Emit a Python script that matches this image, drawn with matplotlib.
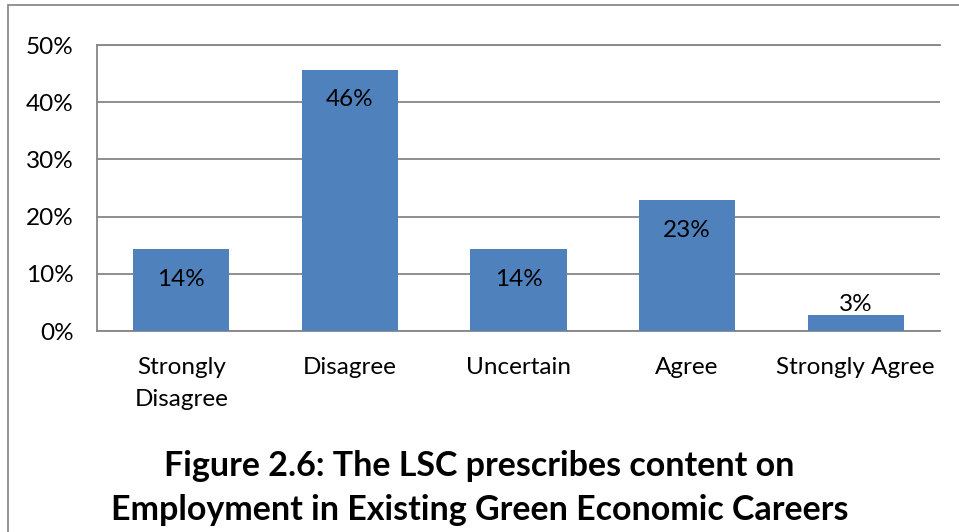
import matplotlib
matplotlib.use("Agg")
import matplotlib.pyplot as plt
from matplotlib.patches import Rectangle

categories = ["Strongly\nDisagree", "Disagree", "Uncertain", "Agree", "Strongly Agree"]
values = [14.29, 45.71, 14.29, 22.86, 2.86]
labels = ["14%", "46%", "14%", "23%", "3%"]
yticks = [0, 10, 20, 30, 40, 50]
title = "Figure 2.6: The LSC prescribes content on\nEmployment in Existing Green Economic Careers"

plt.rcParams['font.family'] = ['Lato', 'DejaVu Sans']

W, H = 959, 532
fig = plt.figure(figsize=(W / 100, H / 100), dpi=100)
ax = fig.add_axes([97 / W, 1 - 331 / H, (940 - 97) / W, (331 - 45) / H])

grid_col = '#868686'
bar_col = '#4F81BD'

x = range(len(categories))
ax.bar(x, values, width=0.57, color=bar_col, zorder=3)
ax.set_xlim(-0.5, len(categories) - 0.5)
ax.set_ylim(0, 50)
ax.set_yticks(yticks)
ax.set_yticklabels([f"{t}%" for t in yticks])
ax.set_xticks(list(x))
ax.set_xticklabels(categories, linespacing=1.62)
ax.tick_params(axis='y', length=0, pad=17, labelsize=17.5)
ax.tick_params(axis='x', length=0, pad=19, labelsize=17.5)
ax.yaxis.grid(True, color=grid_col, linewidth=1.3, zorder=0)

for side in ['top', 'right']:
    ax.spines[side].set_visible(False)
for side in ['left', 'bottom']:
    ax.spines[side].set_color(grid_col)
    ax.spines[side].set_linewidth(1.3)
ax.axhline(50, color=grid_col, linewidth=1.3, zorder=0, clip_on=False)

for i, (v, lab) in enumerate(zip(values, labels)):
    if v < 5:
        ax.annotate(lab, (i, v), xytext=(0, 7), textcoords='offset points',
                    ha='center', va='center', fontsize=17.5)
    else:
        ax.annotate(lab, (i, v), xytext=(0, -21.5), textcoords='offset points',
                    ha='center', va='center', fontsize=17.5)

fig.text(0.5, 1 - 488 / H, title, ha='center', va='center', fontsize=24.5,
         fontweight='bold', linespacing=1.45)

fig.add_artist(Rectangle((8 / W, -0.1), 1.2, 1 - 5 / H + 0.1, transform=fig.transFigure,
                         fill=False, edgecolor='#8a8a8a', linewidth=1.3))

fig.savefig("out.png", dpi=100)
